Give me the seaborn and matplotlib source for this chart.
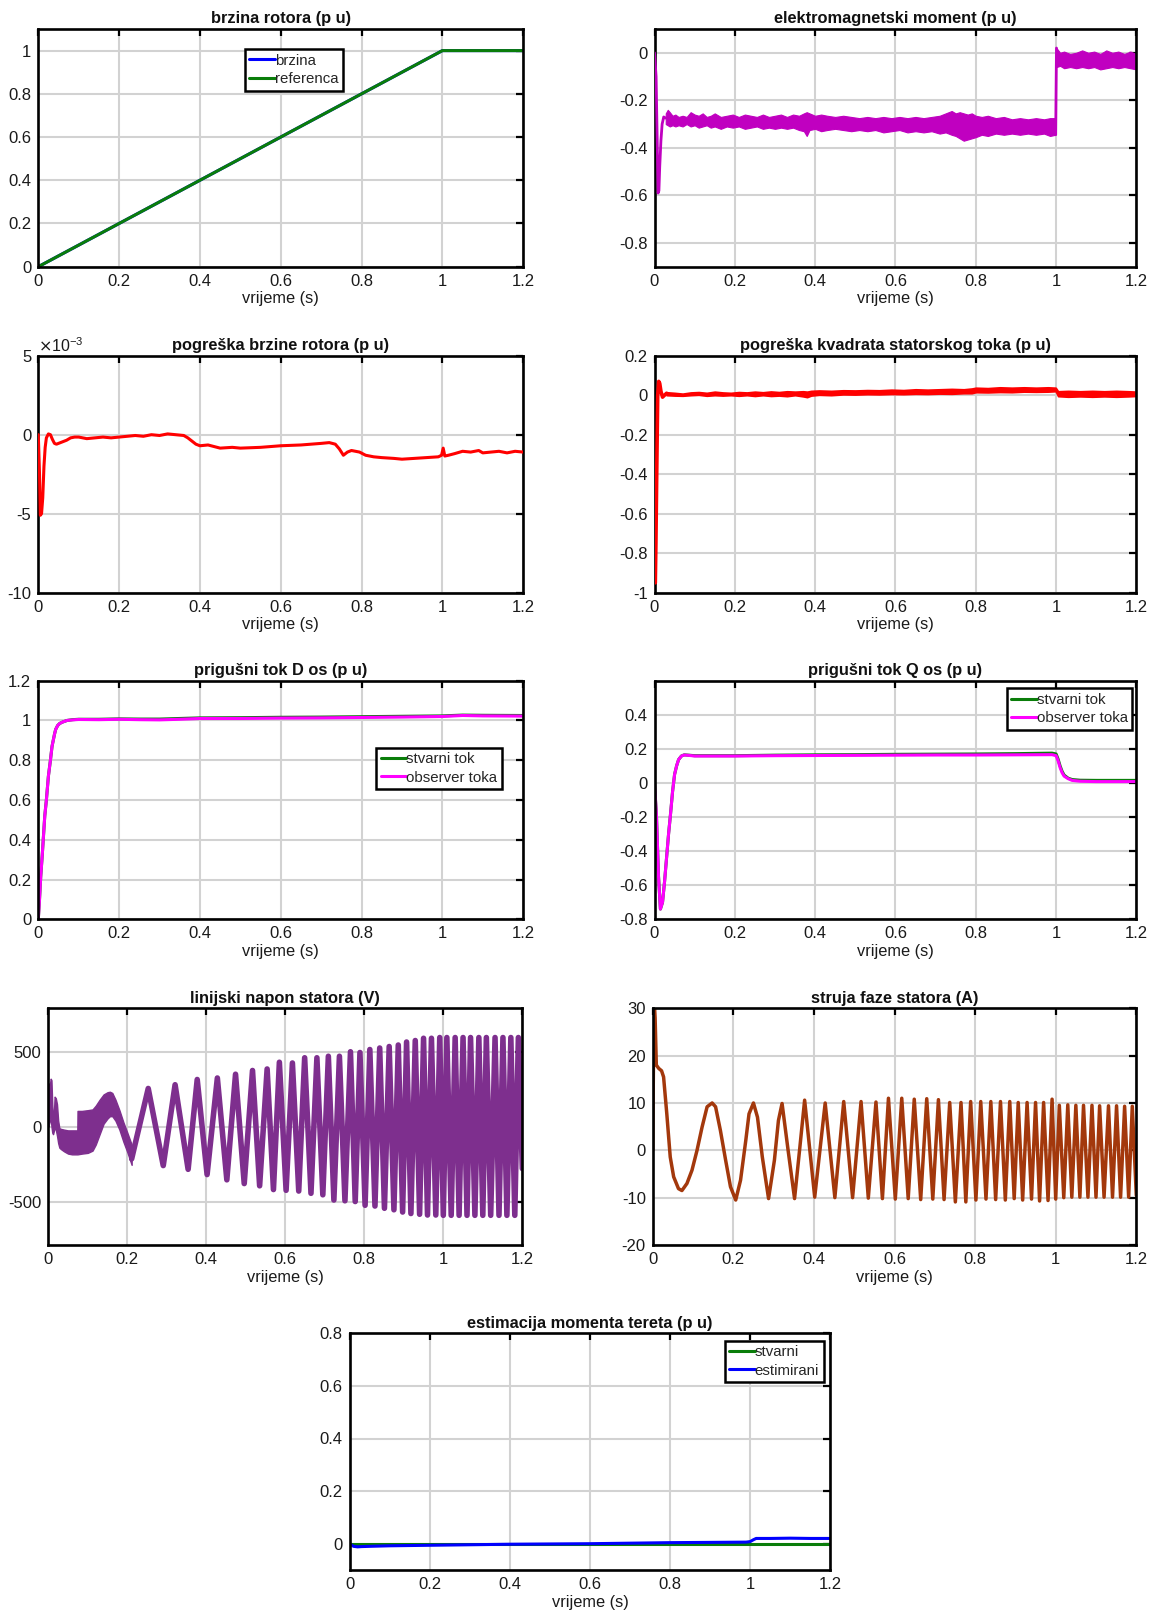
import numpy as np
import pandas as pd
import matplotlib
matplotlib.use("Agg")
import matplotlib.pyplot as plt
import seaborn as sns

# ---------------- data ----------------
# 1) brzina rotora
spd_t = [0.0, 1.0, 1.2]
spd_ref = [0.0, 1.0, 1.0]
spd_act = [0.0, 1.0, 1.0]

# 2) elektromagnetski moment
tq_spike_t = [0.0, 0.004, 0.007, 0.009, 0.011, 0.013, 0.016, 0.019, 0.023, 0.028]
tq_spike_v = [0.0, -0.10, -0.40, -0.59, -0.58, -0.48, -0.37, -0.30, -0.27, -0.275]
tq_band_t = [0.028, 0.033, 0.038, 0.045, 0.052, 0.06, 0.07, 0.08, 0.09, 0.1, 0.11, 0.12, 0.13, 0.14,
             0.15, 0.165, 0.18, 0.195, 0.21, 0.225, 0.24, 0.255, 0.27, 0.285, 0.3, 0.315, 0.33, 0.345,
             0.36, 0.372, 0.379, 0.386, 0.4, 0.415, 0.43, 0.45, 0.47, 0.49, 0.51, 0.53, 0.55, 0.57,
             0.59, 0.61, 0.63, 0.65, 0.67, 0.69, 0.71, 0.725, 0.74, 0.75, 0.76, 0.77, 0.78, 0.79, 0.8,
             0.815, 0.83, 0.85, 0.87, 0.89, 0.91, 0.93, 0.95, 0.97, 0.985, 0.998]
tq_band_hi = [-0.255, -0.24, -0.25, -0.265, -0.26, -0.27, -0.265, -0.27, -0.25, -0.26, -0.265, -0.255,
              -0.27, -0.265, -0.255, -0.27, -0.265, -0.26, -0.27, -0.26, -0.265, -0.27, -0.26, -0.27,
              -0.265, -0.26, -0.27, -0.26, -0.265, -0.255, -0.25, -0.255, -0.265, -0.26, -0.265, -0.27,
              -0.265, -0.27, -0.275, -0.27, -0.275, -0.27, -0.275, -0.27, -0.275, -0.27, -0.275, -0.27,
              -0.265, -0.255, -0.245, -0.255, -0.25, -0.255, -0.26, -0.255, -0.265, -0.27, -0.265,
              -0.275, -0.27, -0.28, -0.275, -0.28, -0.275, -0.28, -0.275, -0.275]
tq_band_lo = [-0.30, -0.305, -0.31, -0.305, -0.31, -0.305, -0.31, -0.30, -0.31, -0.305, -0.315, -0.31,
              -0.305, -0.315, -0.31, -0.32, -0.31, -0.315, -0.31, -0.32, -0.315, -0.31, -0.32, -0.315,
              -0.32, -0.315, -0.32, -0.315, -0.325, -0.33, -0.35, -0.325, -0.32, -0.33, -0.325, -0.32,
              -0.325, -0.33, -0.325, -0.33, -0.325, -0.335, -0.33, -0.325, -0.335, -0.33, -0.335, -0.33,
              -0.34, -0.335, -0.345, -0.35, -0.36, -0.37, -0.365, -0.36, -0.355, -0.345, -0.35, -0.34,
              -0.345, -0.34, -0.345, -0.34, -0.345, -0.34, -0.35, -0.345]
tq_step_t = [0.999, 1.001]
tq_step_v = [-0.345, 0.02]
tq_post_t = [1.001, 1.01, 1.02, 1.035, 1.05, 1.065, 1.08, 1.095, 1.11, 1.125, 1.14, 1.155, 1.17, 1.185, 1.2]
tq_post_hi = [0.02, 0.0, 0.005, -0.005, 0.0, 0.01, 0.0, 0.005, -0.005, 0.01, 0.0, 0.005, -0.005, 0.005, -0.005]
tq_post_lo = [-0.06, -0.055, -0.065, -0.06, -0.065, -0.06, -0.065, -0.06, -0.07, -0.065, -0.06, -0.065,
              -0.06, -0.065, -0.07]

# 3) pogreska brzine rotora (x 1e-3)
se_t = [0, 0.003, 0.005, 0.008, 0.011, 0.014, 0.017, 0.02, 0.025, 0.03, 0.035, 0.04, 0.045, 0.05, 0.06,
        0.07, 0.08, 0.09, 0.1, 0.12, 0.14, 0.16, 0.18, 0.2, 0.22, 0.24, 0.26, 0.28, 0.3, 0.32, 0.34, 0.36,
        0.37, 0.38, 0.39, 0.4, 0.42, 0.45, 0.48, 0.5, 0.55, 0.6, 0.65, 0.7, 0.72, 0.735, 0.745, 0.755,
        0.765, 0.775, 0.785, 0.795, 0.81, 0.83, 0.85, 0.88, 0.9, 0.93, 0.96, 0.99, 0.998, 1.002, 1.006,
        1.015, 1.03, 1.05, 1.07, 1.09, 1.1, 1.12, 1.14, 1.16, 1.18, 1.2]
se_v = [0, -2.5, -5.1, -5.0, -4.0, -2.0, -0.8, -0.2, 0.05, 0.0, -0.3, -0.55, -0.6, -0.55, -0.45, -0.35,
        -0.2, -0.15, -0.15, -0.25, -0.2, -0.15, -0.2, -0.15, -0.1, -0.05, -0.1, 0.0, -0.05, 0.05, 0.0,
        -0.05, -0.2, -0.4, -0.6, -0.7, -0.65, -0.85, -0.8, -0.85, -0.8, -0.7, -0.65, -0.55, -0.5, -0.6,
        -0.9, -1.3, -1.1, -1.0, -1.05, -1.1, -1.3, -1.4, -1.45, -1.5, -1.55, -1.5, -1.45, -1.4, -1.3,
        -0.85, -1.35, -1.3, -1.2, -1.05, -1.1, -1.0, -1.15, -1.1, -1.05, -1.15, -1.05, -1.1]

# 4) pogreska kvadrata statorskog toka
fe_spike_t = [0.002, 0.0035, 0.0055, 0.008, 0.0105, 0.013, 0.016, 0.02, 0.025, 0.03]
fe_spike_v = [-0.95, -0.75, -0.4, 0.0, 0.07, 0.06, 0.02, -0.01, 0.0, 0.01]
fe_band_t = [0.03, 0.05, 0.07, 0.09, 0.11, 0.13, 0.15, 0.17, 0.19, 0.21, 0.23, 0.25, 0.27, 0.29, 0.31,
             0.33, 0.35, 0.37, 0.38, 0.39, 0.41, 0.44, 0.47, 0.5, 0.53, 0.56, 0.59, 0.62, 0.65, 0.68,
             0.71, 0.74, 0.77, 0.79, 0.8, 0.83, 0.86, 0.89, 0.92, 0.95, 0.98, 0.999, 1.005, 1.03, 1.06,
             1.09, 1.12, 1.15, 1.18, 1.2]
fe_band_hi = [0.015, 0.012, 0.008, 0.014, 0.016, 0.012, 0.018, 0.014, 0.012, 0.016, 0.014, 0.018, 0.015,
              0.019, 0.016, 0.02, 0.018, 0.02, 0.018, 0.022, 0.024, 0.022, 0.025, 0.024, 0.026, 0.025,
              0.028, 0.026, 0.03, 0.028, 0.03, 0.032, 0.03, 0.034, 0.038, 0.036, 0.04, 0.038, 0.04,
              0.038, 0.04, 0.038, 0.02, 0.022, 0.02, 0.022, 0.02, 0.022, 0.02, 0.018]
fe_band_lo = [0.0, -0.002, -0.003, 0.0, 0.002, -0.003, 0.0, -0.002, 0.0, -0.003, 0.0, -0.004, 0.0,
              -0.004, -0.002, -0.005, 0.0, -0.006, -0.01, -0.002, 0.002, 0.0, 0.004, 0.003, 0.005, 0.004,
              0.006, 0.005, 0.007, 0.006, 0.008, 0.007, 0.01, 0.01, 0.015, 0.014, 0.016, 0.015, 0.018,
              0.017, 0.018, 0.02, -0.005, -0.008, -0.006, -0.008, -0.006, -0.008, -0.006, -0.004]

# 5) prigusni tok D os
fd_t = [0, 0.003, 0.006, 0.01, 0.016, 0.02, 0.025, 0.03, 0.034, 0.04, 0.043, 0.048, 0.053, 0.06, 0.071,
        0.085, 0.1, 0.15, 0.2, 0.25, 0.3, 0.35, 0.4, 0.5, 0.6, 0.7, 0.8, 0.9, 1.0, 1.05, 1.1, 1.2]
fd_obs = [0, 0.1, 0.215, 0.33, 0.52, 0.6, 0.72, 0.8, 0.87, 0.93, 0.955, 0.975, 0.985, 0.992, 1.0, 1.003,
          1.005, 1.004, 1.006, 1.004, 1.003, 1.006, 1.01, 1.01, 1.012, 1.013, 1.015, 1.017, 1.02, 1.025,
          1.023, 1.022]
fd_act = [0, 0.1, 0.215, 0.33, 0.52, 0.6, 0.72, 0.8, 0.87, 0.93, 0.955, 0.975, 0.985, 0.992, 1.0, 1.004,
          1.006, 1.006, 1.008, 1.007, 1.007, 1.01, 1.013, 1.014, 1.016, 1.017, 1.019, 1.021, 1.023, 1.027,
          1.026, 1.025]

# 6) prigusni tok Q os
fq_t = [0, 0.005, 0.01, 0.0147, 0.02, 0.025, 0.03, 0.035, 0.04, 0.045, 0.05, 0.055, 0.06, 0.067, 0.074,
        0.085, 0.1, 0.2, 0.3, 0.4, 0.5, 0.6, 0.7, 0.8, 0.9, 0.99, 1.0, 1.005, 1.01, 1.015, 1.02, 1.03,
        1.04, 1.06, 1.1, 1.2]
fq_obs = [0, -0.2, -0.55, -0.74, -0.7, -0.58, -0.44, -0.3, -0.18, -0.05, 0.05, 0.1, 0.137, 0.158, 0.164,
          0.162, 0.158, 0.158, 0.16, 0.161, 0.162, 0.163, 0.164, 0.164, 0.165, 0.166, 0.16, 0.13, 0.09,
          0.06, 0.04, 0.025, 0.015, 0.01, 0.008, 0.008]
fq_act = [0, -0.2, -0.55, -0.74, -0.7, -0.58, -0.44, -0.3, -0.18, -0.05, 0.05, 0.1, 0.137, 0.158, 0.165,
          0.163, 0.16, 0.16, 0.163, 0.165, 0.166, 0.168, 0.169, 0.17, 0.172, 0.175, 0.17, 0.14, 0.1,
          0.068, 0.046, 0.028, 0.02, 0.016, 0.015, 0.015]

# 7) linijski napon statora: early PWM band, then oscillation extrema
vb_t = [0.000, 0.003, 0.006, 0.008, 0.010, 0.012, 0.014, 0.016, 0.019, 0.022, 0.025, 0.028, 0.032, 0.040,
        0.050, 0.060, 0.070, 0.0735, 0.074, 0.085, 0.100, 0.112, 0.120, 0.130, 0.140, 0.150, 0.156, 0.162,
        0.170, 0.180, 0.190, 0.200, 0.211]
vb_hi = [290, 260, 320, 310, 150, 60, 80, 200, 190, 150, 40, -10, -15, -20, -25, -25, -25, -25, 105, 105,
         110, 115, 140, 180, 215, 230, 233, 225, 180, 110, 30, -40, -120]
vb_lo = [0, 30, 60, 0, -40, -50, -30, -10, -20, -60, -110, -140, -150, -165, -180, -185, -185, -185, -185,
         -180, -175, -160, -120, -50, 20, 55, 70, 70, 40, -20, -100, -170, -255]
vx_t = [0.211, 0.253, 0.291, 0.321, 0.354, 0.377, 0.402, 0.428, 0.452, 0.474, 0.496, 0.517, 0.535, 0.554,
        0.570, 0.585, 0.602, 0.618, 0.634, 0.649, 0.665, 0.680, 0.695, 0.709, 0.723, 0.737, 0.751, 0.765,
        0.777, 0.789, 0.802, 0.814, 0.827, 0.839, 0.851, 0.863, 0.875, 0.886, 0.897, 0.907, 0.918, 0.929,
        0.940, 0.950, 0.960, 0.970, 0.981, 0.991, 1.000, 1.009, 1.020, 1.030, 1.040, 1.050, 1.060, 1.069,
        1.080, 1.090, 1.100, 1.109, 1.120, 1.131, 1.141, 1.151, 1.161, 1.171, 1.181, 1.190, 1.200]
vx_v = [-215, 255, -260, 280, -285, 315, -320, 325, -355, 350, -380, 375, -395, 385, -420, 430, -425, 425,
        -430, 460, -445, 460, -455, 470, -490, 470, -495, 500, -500, 495, -525, 515, -530, 525, -545, 535,
        -555, 545, -570, 565, -580, 575, -585, 590, -590, 590, -590, 595, -592, 595, -592, 595, -592, 595,
        -592, 595, -592, 595, -592, 595, -592, 595, -592, 595, -592, 595, -592, 595, -280]

# 8) struja faze statora
cur_t = [0, 0.002, 0.004, 0.006, 0.009, 0.015, 0.022, 0.027, 0.035, 0.0435, 0.052, 0.064, 0.0725, 0.085,
         0.0975, 0.11, 0.1225, 0.135, 0.1475, 0.156, 0.168, 0.181, 0.193, 0.206, 0.218, 0.231, 0.239,
         0.25, 0.26, 0.272, 0.2875, 0.302, 0.312, 0.321, 0.336, 0.352, 0.365, 0.377, 0.402, 0.428, 0.452,
         0.474, 0.496, 0.517, 0.535, 0.554, 0.570, 0.585, 0.602, 0.618, 0.634, 0.649, 0.665, 0.680, 0.695,
         0.709, 0.723, 0.737, 0.751, 0.765, 0.777, 0.789, 0.802, 0.814, 0.827, 0.839, 0.851, 0.863, 0.875,
         0.886, 0.897, 0.907, 0.918, 0.929, 0.940, 0.950, 0.960, 0.970, 0.981, 0.991, 1.000, 1.009, 1.020,
         1.030, 1.040, 1.050, 1.060, 1.069, 1.080, 1.090, 1.100, 1.109, 1.120, 1.131, 1.141, 1.151, 1.161,
         1.171, 1.181, 1.190, 1.200]
cur_v = [0, 20, 31, 28, 18, 17.3, 16.8, 15.5, 7.7, -1.4, -5.6, -8.1, -8.5, -7.0, -4.2, 0.0, 4.9, 9.2,
         10.0, 9.2, 4.2, -2.1, -7.7, -10.5, -6.3, 2.1, 7.7, 10.0, 7.0, -1.4, -10.2, -2.1, 6.3, 9.9, 0.0,
         -10.2, 0.5, 10.6, -9.9, 10.0, -10.0, 10.3, -10.0, 10.3, -10.1, 10.2, -10.2, 11.0, -10.3, 11.0,
         -10.2, 10.8, -10.4, 10.9, -10.3, 10.7, -10.4, 10.1, -10.9, 10.1, -10.9, 10.3, -10.5, 10.3, -10.3,
         10.3, -10.4, 10.3, -10.5, 10.3, -10.2, 10.1, -10.5, 10.1, -10.3, 10.1, -10.7, 10.1, -10.6, 10.8,
         -10.3, 9.5, -10.0, 9.6, -9.9, 9.5, -9.9, 9.5, -9.9, 9.5, -9.9, 9.4, -9.9, 9.4, -9.9, 9.4, -9.9,
         9.3, -9.9, 9.3, -9.5]

# 9) estimacija momenta tereta
lt_t = [0, 0.01, 0.02, 0.03, 0.05, 0.1, 0.2, 0.3, 0.4, 0.5, 0.6, 0.7, 0.8, 0.9, 0.99, 1.0, 1.008, 1.015,
        1.05, 1.1, 1.15, 1.2]
lt_est = [0, -0.01, -0.012, -0.011, -0.01, -0.008, -0.006, -0.004, -0.002, -0.001, 0.0, 0.002, 0.004,
          0.005, 0.006, 0.008, 0.015, 0.02, 0.02, 0.021, 0.02, 0.02]
lt_act_t = [0.0, 1.2]
lt_act = [0.0, 0.0]

x_ticks = [0, 0.2, 0.4, 0.6, 0.8, 1.0, 1.2]

# ---------------- styling ----------------
sns.set_theme(style="white")
plt.rcParams["font.family"] = ["Liberation Sans", "DejaVu Sans"]
plt.rcParams["axes.unicode_minus"] = False

W, H = 1156, 1622
fig = plt.figure(figsize=(W / 100, H / 100), dpi=100)


def rect(l, t, r, b):
    return [l / W, 1 - b / H, (r - l) / W, (b - t) / H]


def fmt(v):
    if abs(v - round(v)) < 1e-9:
        return str(int(round(v)))
    return ("%g" % v)


def style(ax, title, ylim, yticks, ylabels=None):
    ax.set_xlim(0, 1.2)
    ax.set_xticks(x_ticks)
    ax.set_xticklabels([fmt(v) for v in x_ticks])
    ax.set_ylim(*ylim)
    ax.set_yticks(yticks)
    ax.set_yticklabels(ylabels if ylabels is not None else [fmt(v) for v in yticks])
    ax.grid(True, color="#d2d2d2", linewidth=1.5)
    ax.set_axisbelow(True)
    for s in ax.spines.values():
        s.set_color("black")
        s.set_linewidth(1.9)
    ax.tick_params(direction="in", length=5, width=1.6, top=True, right=True,
                   labelsize=12, pad=5, colors="black", labelcolor="#1a1a1a")
    ax.set_title(title, fontsize=11.8, fontweight="bold", pad=4, color="#111111")
    ax.set_xlabel("vrijeme (s)", fontsize=11.8, labelpad=2, color="#1a1a1a")
    ax.set_ylabel("")


def legend(ax, anchor, loc):
    leg = ax.legend(loc=loc, bbox_to_anchor=anchor, fontsize=10.8, frameon=True, fancybox=False,
                    edgecolor="black", framealpha=1, borderpad=0.3, labelspacing=0.3,
                    handlelength=1.7, handletextpad=0.0, borderaxespad=0)
    leg.get_frame().set_linewidth(1.8)
    leg.set_zorder(10)
    return leg


GREEN = "#0a7d0a"
BLUE = "#0000ff"
MAG = "#ff00ff"
TQ = "#c000c0"
RED = "#ff0000"
VPUR = "#7e2f8e"
CUR = "#a3380c"

# 1
ax = fig.add_axes(rect(38.3, 29, 523.2, 266.7))
sns.lineplot(x=spd_t, y=spd_act, ax=ax, color=BLUE, linewidth=2.2, label="brzina", estimator=None, sort=False)
sns.lineplot(x=spd_t, y=spd_ref, ax=ax, color=GREEN, linewidth=2.2, label="referenca", estimator=None, sort=False)
style(ax, "brzina rotora (p u)", (0, 1.1), [0, 0.2, 0.4, 0.6, 0.8, 1.0])
legend(ax, (0.426, 0.915), "upper left")

# 2
ax = fig.add_axes(rect(654.5, 29, 1136.4, 266.7))
ax.fill_between(tq_band_t, tq_band_lo, tq_band_hi, color=TQ, linewidth=0.8, edgecolor=TQ)
ax.fill_between(tq_post_t, tq_post_lo, tq_post_hi, color=TQ, linewidth=0.8, edgecolor=TQ)
sns.lineplot(x=tq_spike_t, y=tq_spike_v, ax=ax, color=TQ, linewidth=2.0, estimator=None, sort=False, zorder=3)
sns.lineplot(x=tq_step_t, y=tq_step_v, ax=ax, color=TQ, linewidth=2.0, estimator=None, sort=False)
style(ax, "elektromagnetski moment (p u)", (-0.9, 0.1), [-0.8, -0.6, -0.4, -0.2, 0.0])

# 3
ax = fig.add_axes(rect(38.3, 355.7, 523.2, 592.7))
sns.lineplot(x=se_t, y=se_v, ax=ax, color=RED, linewidth=2.2, estimator=None, sort=False, zorder=3)
style(ax, "pogreška brzine rotora (p u)", (-10, 5), [-10, -5, 0, 5])
ax.text(0.0, 1.004, r"$\times$10$^{\mathregular{-3}}$", transform=ax.transAxes, fontsize=11.5,
        ha="left", va="bottom", color="#1a1a1a")

# 4
ax = fig.add_axes(rect(654.5, 355.7, 1136.4, 592.7))
ax.fill_between(fe_band_t, fe_band_lo, fe_band_hi, color=RED, linewidth=1.2, edgecolor=RED)
sns.lineplot(x=fe_spike_t, y=fe_spike_v, ax=ax, color=RED, linewidth=2.6, estimator=None, sort=False, zorder=3)
style(ax, "pogreška kvadrata statorskog toka (p u)", (-1, 0.2),
      [-1, -0.8, -0.6, -0.4, -0.2, 0, 0.2])

# 5
ax = fig.add_axes(rect(38.3, 680.7, 523.2, 919.3))
sns.lineplot(x=fd_t, y=fd_act, ax=ax, color=GREEN, linewidth=2.2, label="stvarni tok", estimator=None, sort=False)
sns.lineplot(x=fd_t, y=fd_obs, ax=ax, color=MAG, linewidth=2.2, label="observer toka", estimator=None, sort=False)
style(ax, "prigušni tok D os (p u)", (0, 1.2), [0, 0.2, 0.4, 0.6, 0.8, 1.0, 1.2])
legend(ax, (0.697, 0.719), "upper left")

# 6
ax = fig.add_axes(rect(654.5, 680.7, 1136.4, 919.3))
sns.lineplot(x=fq_t, y=fq_act, ax=ax, color=GREEN, linewidth=2.2, label="stvarni tok", estimator=None, sort=False)
sns.lineplot(x=fq_t, y=fq_obs, ax=ax, color=MAG, linewidth=2.2, label="observer toka", estimator=None, sort=False)
style(ax, "prigušni tok Q os (p u)", (-0.8, 0.6), [-0.8, -0.6, -0.4, -0.2, 0, 0.2, 0.4])
legend(ax, (0.991, 0.968), "upper right")

# 7
ax = fig.add_axes(rect(48.3, 1008.3, 522.3, 1245))
ax.fill_between(vb_t, vb_lo, vb_hi, color=VPUR, linewidth=1.0, edgecolor=VPUR)
sns.lineplot(x=vx_t, y=vx_v, ax=ax, color=VPUR, linewidth=4.0, estimator=None, sort=False)
style(ax, "linijski napon statora (V)", (-790, 790), [-500, 0, 500])

# 8
ax = fig.add_axes(rect(652.7, 1008.3, 1136.3, 1245))
sns.lineplot(x=cur_t, y=cur_v, ax=ax, color=CUR, linewidth=2.5, estimator=None, sort=False)
style(ax, "struja faze statora (A)", (-20, 30), [-20, -10, 0, 10, 20, 30])

# 9
ax = fig.add_axes(rect(349.5, 1333.3, 830.3, 1570))
sns.lineplot(x=lt_act_t, y=lt_act, ax=ax, color=GREEN, linewidth=2.2, label="stvarni", estimator=None, sort=False)
sns.lineplot(x=lt_t, y=lt_est, ax=ax, color=BLUE, linewidth=2.2, label="estimirani", estimator=None, sort=False)
style(ax, "estimacija momenta tereta (p u)", (-0.1, 0.8), [0, 0.2, 0.4, 0.6, 0.8])
legend(ax, (0.986, 0.969), "upper right")

fig.savefig("out.png", dpi=100, facecolor="white")
